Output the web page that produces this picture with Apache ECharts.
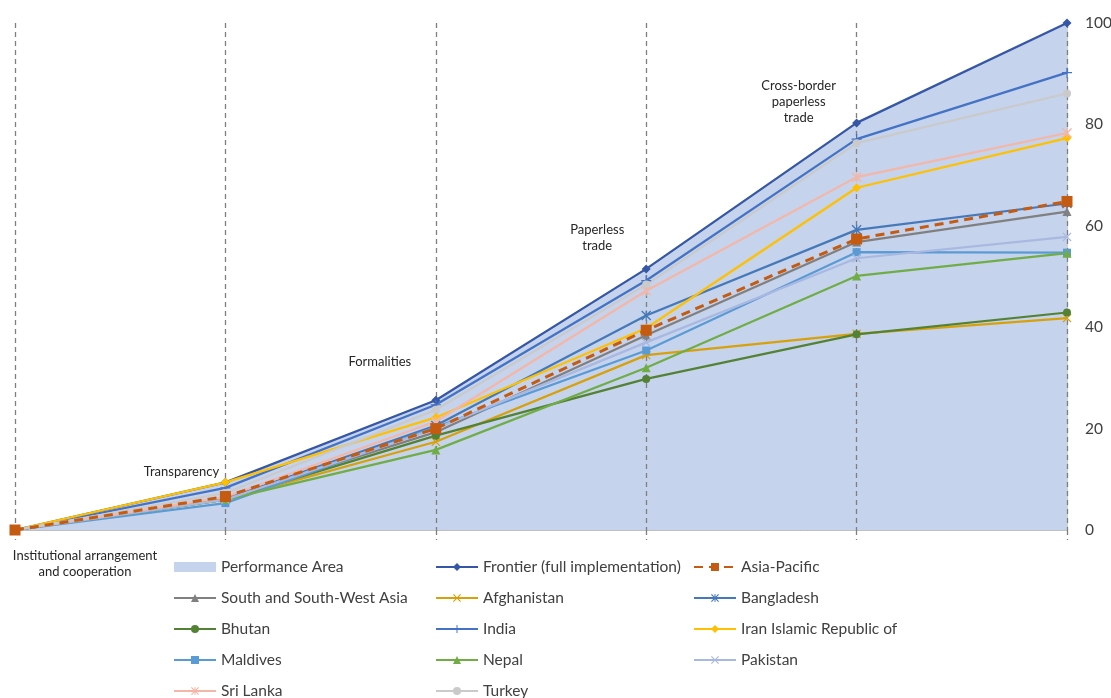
<!DOCTYPE html>
<html>
<head>
<meta charset="utf-8">
<title>Trade facilitation implementation – South and South-West Asia</title>
<script src="https://cdn.jsdelivr.net/npm/echarts@6/dist/echarts.min.js"></script>
<style>
  html, body { margin: 0; padding: 0; background: #ffffff; }
  #chart { width: 1111px; height: 698px; }
</style>
</head>
<body>
<div id="chart"></div>
<script>
// Cumulative implementation stages (x axis ticks)
const stages = ['Institutional arrangement and cooperation', 'Transparency', 'Formalities',
                'Paperless trade', 'Cross-border paperless trade', 'End'];

// Stage captions drawn beside the dashed stage lines
const stageCaptions = ['Institutional arrangement\nand cooperation', 'Transparency', 'Formalities',
                       'Paperless\ntrade', 'Cross-border\npaperless\ntrade'];

// Y axis ticks
const yTicks = [0, 20, 40, 60, 80, 100];

// Cumulative implementation score (%) per economy / group
const frontier    = [0, 9.4, 25.6, 51.5, 80.3, 100];
const asiaPacific = [0, 6.6, 20.0, 39.4, 57.4, 64.8];
const southSWAsia = [0, 6.3, 19.3, 38.4, 56.8, 62.8];
const afghanistan = [0, 6.0, 17.4, 34.5, 38.7, 41.8];
const bangladesh  = [0, 6.1, 20.6, 42.3, 59.2, 64.4];
const bhutan      = [0, 6.0, 18.6, 29.8, 38.6, 42.9];
const india       = [0, 8.3, 24.7, 49.2, 77.1, 90.2];
const iran        = [0, 9.4, 22.2, 39.8, 67.5, 77.3];
const maldives    = [0, 5.3, 20.3, 35.4, 54.8, 54.7];
const nepal       = [0, 6.0, 15.8, 32.0, 50.1, 54.6];
const pakistan    = [0, 6.0, 20.0, 37.0, 53.6, 57.8];
const sriLanka    = [0, 6.5, 21.4, 47.2, 69.6, 78.3];
const turkey      = [0, 7.3, 23.7, 48.4, 76.3, 86.1];

// Marker shapes
const SYM_X = 'path://M0,1L1,0L5,4L9,0L10,1L6,5L10,9L9,10L5,6L1,10L0,9L4,5Z';
const SYM_PLUS = 'path://M4.4,0H5.6V4.4H10V5.6H5.6V10H4.4V5.6H0V4.4H4.4Z';
const SYM_STAR = 'path://M0,1L1,0L5,4L9,0L10,1L6,5L10,9L9,10L5,6L1,10L0,9L4,5Z M4.4,0H5.6V10H4.4Z';

const FONT = 'Lato, "Open Sans", sans-serif';

function lineSeries(name, data, color, symbol, size, extra) {
  return Object.assign({
    name: name,
    type: 'line',
    data: data,
    color: color,
    symbol: symbol,
    symbolSize: size,
    showAllSymbol: true,
    lineStyle: { width: 2.25, color: color },
    itemStyle: { color: color },
    emphasis: { disabled: true },
    z: 3
  }, extra || {});
}

const series = [
  {
    name: 'Performance Area',
    type: 'line',
    data: frontier,
    color: '#C5D3EC',
    symbol: 'none',
    lineStyle: { width: 0 },
    areaStyle: { color: '#C5D3EC', opacity: 1 },
    emphasis: { disabled: true },
    z: 1
  },
  lineSeries('Frontier (full implementation)', frontier, '#3557A6', 'diamond', 9),
  lineSeries('South and South-West Asia', southSWAsia, '#808080', 'triangle', 9),
  lineSeries('Afghanistan', afghanistan, '#D6A10A', SYM_X, 9),
  lineSeries('Bangladesh', bangladesh, '#4679B8', SYM_STAR, 10),
  lineSeries('Bhutan', bhutan, '#548235', 'circle', 8),
  lineSeries('India', india, '#4472C4', SYM_PLUS, 10),
  lineSeries('Iran Islamic Republic of', iran, '#FFC000', 'diamond', 9),
  lineSeries('Maldives', maldives, '#5B9BD5', 'rect', 8),
  lineSeries('Nepal', nepal, '#70AD47', 'triangle', 9),
  lineSeries('Pakistan', pakistan, '#A9B8E0', SYM_X, 9),
  lineSeries('Sri Lanka', sriLanka, '#F4B6A6', SYM_STAR, 10),
  lineSeries('Turkey', turkey, '#CACACA', 'circle', 8),
  lineSeries('Asia-Pacific', asiaPacific, '#C55A11', 'rect', 11, {
    lineStyle: { width: 3, color: '#C55A11', type: [9, 6] },
    z: 4
  })
];

function legendBlock(left, top, names) {
  return {
    orient: 'vertical',
    left: left,
    top: top,
    itemWidth: 42,
    itemHeight: 10,
    itemGap: 11,
    padding: 0,
    selectedMode: false,
    textStyle: { fontFamily: FONT, fontSize: 15.5, color: '#404040', lineHeight: 20 },
    data: names
  };
}

const chart = echarts.init(document.getElementById('chart'), null, { renderer: 'canvas' });

const dashStyle = { color: '#7F7F7F', type: [5, 4], width: 1.3 };

chart.setOption({
  backgroundColor: '#ffffff',
  animation: false,
  grid: { left: 15, right: 44, top: 23, bottom: 168, containLabel: false, outerBoundsMode: 'none' },
  xAxis: {
    type: 'category',
    data: stages,
    boundaryGap: false,
    axisLine: { show: true, lineStyle: { color: '#BFBFBF', width: 1 } },
    axisTick: { show: true, interval: 0, length: 10, lineStyle: dashStyle },
    axisLabel: { show: false, interval: 0 },
    splitLine: { show: true, interval: 0, lineStyle: dashStyle },
    z: 2
  },
  yAxis: {
    type: 'value',
    position: 'right',
    min: yTicks[0],
    max: yTicks[yTicks.length - 1],
    interval: 20,
    axisLine: { show: true, lineStyle: { color: '#BFBFBF', width: 1.5 } },
    axisTick: { show: false },
    splitLine: { show: false },
    axisLabel: { margin: 18, fontFamily: FONT, fontSize: 15.5, color: '#404040' }
  },
  legend: [
    legendBlock(173, 557, [{ name: 'Performance Area', icon: 'rect' }, 'South and South-West Asia', 'Bhutan', 'Maldives']),
    legendBlock(435, 557, ['Frontier (full implementation)', 'Afghanistan', 'India', 'Nepal']),
    legendBlock(693, 557, ['Asia-Pacific', 'Bangladesh', 'Iran Islamic Republic of', 'Pakistan']),
    legendBlock(173, 681, ['Sri Lanka']),
    legendBlock(435, 681, ['Turkey'])
  ],
  series: series
});

// Stage captions positioned relative to the stage lines
const captionOffsets = [
  { dx: 70,  y: 564 },
  { dx: -44, y: 472 },
  { dx: -56, y: 362 },
  { dx: -49, y: 238 },
  { dx: -58, y: 102 }
];
const graphics = stageCaptions.map(function (text, i) {
  const px = chart.convertToPixel({ xAxisIndex: 0 }, i);
  return {
    type: 'text',
    x: px + captionOffsets[i].dx,
    y: captionOffsets[i].y,
    silent: true,
    style: {
      text: text,
      fontFamily: FONT,
      fontSize: 13,
      lineHeight: 16,
      fill: '#262626',
      align: 'center',
      verticalAlign: 'middle'
    }
  };
});
chart.setOption({ graphic: graphics });
</script>
</body>
</html>
